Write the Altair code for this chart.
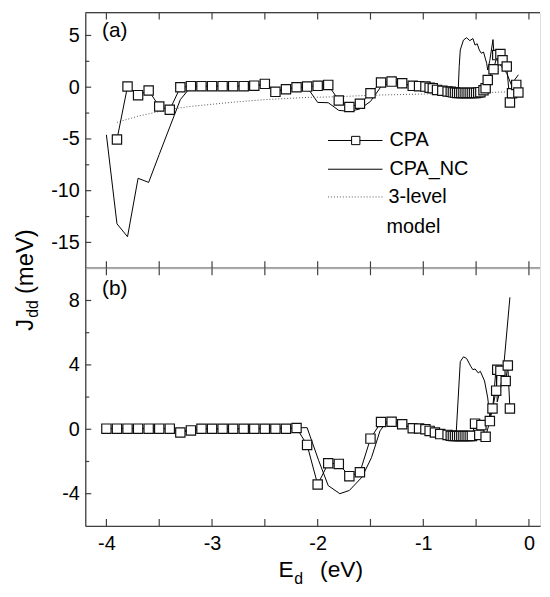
import altair as alt
import pandas as pd

# ---------------- data ----------------
# panel (a)
cpa_a_x = [-3.9, -3.8, -3.7, -3.6, -3.5, -3.4, -3.3, -3.2, -3.1, -3.0, -2.9, -2.8, -2.7, -2.6,
           -2.5, -2.4, -2.3, -2.2, -2.1, -2.0, -1.9, -1.8, -1.7, -1.6, -1.5, -1.4, -1.3, -1.2,
           -1.1, -1.04, -0.98, -0.94, -0.91, -0.87, -0.82, -0.77,
           -0.74, -0.72, -0.70, -0.68, -0.66, -0.64, -0.62, -0.60, -0.58, -0.56, -0.54, -0.52,
           -0.50, -0.48, -0.46,
           -0.43, -0.41, -0.39, -0.335, -0.30, -0.27, -0.25, -0.21, -0.18, -0.16, -0.12, -0.10]
cpa_a_y = [-5.06, 0.07, -0.77, -0.32, -1.86, -2.18, 0.0, 0.1, 0.1, 0.1, 0.1, 0.1, 0.1, 0.15,
           0.32, -0.45, -0.2, 0.0, 0.06, 0.13, 0.22, -1.28, -1.92, -1.6, -0.58, 0.45, 0.54, 0.38,
           0.13, 0.1, 0.06, -0.05, -0.1, -0.26, -0.35, -0.42,
           -0.45, -0.5, -0.52, -0.55, -0.55, -0.55, -0.55, -0.55, -0.55, -0.55, -0.55, -0.55,
           -0.55, -0.52, -0.48,
           -0.3, -0.1, 0.7, 1.73, 3.1, 3.2, 2.6, 2.0, -1.47, -0.58, 0.22, -0.51]

nc_a_x = [-4.0, -3.9, -3.8, -3.7, -3.6, -3.5, -3.4, -3.3, -3.2, -3.1, -3.0, -2.9, -2.8, -2.7,
          -2.6, -2.5, -2.4, -2.3, -2.2, -2.1, -2.0, -1.9, -1.8, -1.7, -1.6, -1.5, -1.4, -1.3,
          -1.2, -1.1, -1.0, -0.9, -0.8, -0.7, -0.67, -0.66, -0.65, -0.62, -0.59, -0.56, -0.53,
          -0.51, -0.49, -0.47, -0.45, -0.43, -0.40, -0.39, -0.37, -0.34, -0.33, -0.30, -0.26,
          -0.21, -0.16, -0.15, -0.10]
nc_a_y = [-4.6, -13.2, -14.45, -8.8, -9.2, -6.5, -3.85, -1.2, 0.05, 0.1, 0.1, 0.1, 0.1, 0.1,
          0.1, 0.3, -0.3, -0.2, 0.0, 0.0, -1.47, -1.5, -2.24, -2.34, -2.1, -1.38, 0.06, 0.45,
          0.38, 0.1, 0.0, -0.15, -0.35, -0.45, -0.45, 2.0, 3.6, 4.55, 4.78, 4.5, 4.7,
          4.07, 4.2, 3.6, 3.27, 3.4, 2.3, 1.66, 2.6, 4.6, 3.0, 2.6, 2.0,
          1.35, 0.06, 0.5, 1.2]

lvl_x = [-3.9, -3.7, -3.5, -3.4, -3.2, -3.0, -2.8, -2.5, -2.1, -1.8, -1.5, -1.0, -0.5, -0.1]
lvl_y = [-3.4, -2.8, -2.35, -2.15, -1.85, -1.65, -1.45, -1.2, -0.99, -0.92, -0.78, -0.66, -0.55, -0.42]

# panel (b)
cpa_b_x = [-4.0, -3.9, -3.8, -3.7, -3.6, -3.5, -3.4, -3.3, -3.2, -3.1, -3.0, -2.9, -2.8, -2.7,
           -2.6, -2.5, -2.4, -2.3, -2.2,
           -2.1, -2.0, -1.9, -1.8, -1.7, -1.6, -1.5, -1.4, -1.3, -1.2, -1.1,
           -1.04, -0.98, -0.94, -0.89, -0.84, -0.77,
           -0.74, -0.72, -0.70, -0.68, -0.66, -0.64, -0.62, -0.60, -0.58, -0.56, -0.54,
           -0.51, -0.47, -0.45, -0.41, -0.37, -0.345, -0.31, -0.30, -0.27, -0.22, -0.20, -0.18]
cpa_b_y = [0.04, 0.04, 0.04, 0.04, 0.04, 0.04, 0.04, -0.2, -0.07, 0.03, 0.03, 0.03, 0.03, 0.03,
           0.03, 0.03, 0.03, 0.03, 0.08,
           -0.97, -3.43, -2.11, -2.15, -2.91, -2.67, -0.58, 0.45, 0.47, 0.31, 0.06,
           0.05, 0.0, -0.1, -0.2, -0.3, -0.35,
           -0.4, -0.41, -0.42, -0.42, -0.42, -0.42, -0.42, -0.42, -0.42, -0.42, -0.41,
           0.35, -0.35, 0.26, -0.47, 0.51, 1.29, 2.4, 3.7, 3.63, 3.0, 3.96, 1.29]

nc_b_x = [-4.0, -3.4, -3.3, -3.2, -2.2, -2.1, -1.99, -1.9, -1.79, -1.70, -1.58, -1.49, -1.41,
          -1.36, -1.30, -1.2, -1.1, -1.0, -0.9, -0.8, -0.71, -0.69, -0.65, -0.62, -0.59, -0.55,
          -0.53, -0.51, -0.48, -0.46, -0.42, -0.39, -0.37, -0.34, -0.31, -0.30, -0.27, -0.24, -0.18]
nc_b_y = [0.05, 0.05, -0.15, 0.0, 0.1, 0.1, -1.95, -3.5, -4.0, -3.8, -2.97, -1.75, -0.1,
          0.35, 0.47, 0.3, 0.06, 0.0, -0.15, -0.3, -0.4, -0.4, 4.2, 4.5, 4.4, 3.9,
          3.7, 3.75, 3.5, 3.6, 3.0, 1.95, 0.8, 1.5, 3.9, 1.7, 2.5, 3.8, 8.2]

# axis ticks / labels
x_major = [-4, -3, -2, -1, 0]
x_minor = [-3.5, -2.5, -1.5, -0.5]
ya_major = [-15, -10, -5, 0, 5]
ya_minor = [-12.5, -7.5, -2.5, 2.5]
yb_major = [-4, 0, 4, 8]
yb_minor = [-2, 2, 6]
legend_labels = ["CPA", "CPA_NC", "3-level", "model"]

# ---------------- styling ----------------
FONT = "Liberation Sans"
FRAME = "#404040"
LABEL_SIZE = 20
W = 459
HA = 258
HB = 260
xscale = alt.Scale(domain=[-4.2, 0.105], nice=False, zero=False)
ya_scale = alt.Scale(domain=[-17.5, 7.2], nice=False, zero=False)
yb_scale = alt.Scale(domain=[-6, 10], nice=False, zero=False)


def df(x, y):
    return pd.DataFrame({"x": x, "y": y})


def make_axes(yscale, ymaj, x_labels):
    yax = alt.Axis(values=ymaj, ticks=False, domain=True, domainColor=FRAME, domainWidth=1.3,
                   grid=False, labelFont=FONT, labelFontSize=LABEL_SIZE, labelColor="black",
                   labelPadding=6, labelExpr="'' + datum.value", title=None)
    if x_labels:
        xax = alt.Axis(values=x_major, ticks=False, domain=True, domainColor=FRAME,
                       domainWidth=1.3, grid=False, labelFont=FONT, labelFontSize=LABEL_SIZE,
                       labelColor="black", labelPadding=8,
                       labelExpr="'' + datum.value", title=None)
    else:
        xax = alt.Axis(values=x_major, ticks=False, domain=False, labels=False,
                       grid=False, title=None)
    X = alt.X("x:Q", scale=xscale, axis=xax)
    Y = alt.Y("y:Q", scale=yscale, axis=yax)
    return X, Y


def line_layer(x, y, X, Y, **kw):
    return (alt.Chart(df(x, y)).mark_line(**kw)
            .encode(x=X, y=Y, order="idx:Q")
            .transform_window(idx="row_number()"))


def cpa_layers(cpa_x, cpa_y, X, Y):
    line = line_layer(cpa_x, cpa_y, X, Y, color="black", strokeWidth=1)
    pts = (alt.Chart(df(cpa_x, cpa_y)).mark_point(shape="square", size=88, filled=True,
                                                   fill="white", stroke="#111111",
                                                   strokeWidth=1.2, opacity=1)
           .encode(x=X, y=Y))
    return [line, pts]


def tick_layers(X, Y, ymaj, ymin, h):
    out = []
    xt = pd.DataFrame({"x": x_major + x_minor})
    out.append(alt.Chart(xt).mark_rule(color=FRAME, strokeWidth=1.2)
               .encode(x=X, y=alt.value(0), y2=alt.value(7)))
    out.append(alt.Chart(xt).mark_rule(color=FRAME, strokeWidth=1.2)
               .encode(x=X, y=alt.value(h - 7), y2=alt.value(h)))
    out.append(alt.Chart(pd.DataFrame({"y": ymaj})).mark_rule(color=FRAME, strokeWidth=1.2)
               .encode(y=Y, x=alt.value(0), x2=alt.value(6)))
    out.append(alt.Chart(pd.DataFrame({"y": ymin})).mark_rule(color=FRAME, strokeWidth=1.2)
               .encode(y=Y, x=alt.value(0), x2=alt.value(4)))
    return out


def txt(text, x, y, size, angle=0, baseline="alphabetic"):
    kw = dict(font=FONT, fontSize=size, align="left", baseline=baseline, color="black")
    if angle:
        kw["angle"] = angle
    return alt.Chart().mark_text(**kw).encode(x=alt.value(x), y=alt.value(y),
                                               text=alt.value(text))


# ---------------- panel (a) ----------------
Xa, Ya = make_axes(ya_scale, ya_major, False)
la = [line_layer(nc_a_x, nc_a_y, Xa, Ya, color="black", strokeWidth=1),
      alt.Chart(df(lvl_x, lvl_y)).mark_line(color="#555555", strokeWidth=1, strokeDash=[1, 2])
      .encode(x=Xa, y=Ya)]
la += cpa_layers(cpa_a_x, cpa_a_y, Xa, Ya)
la += tick_layers(Xa, Ya, ya_major, ya_minor, HA)
# frame: top edge and panel boundary
la.append(alt.Chart().mark_rule(color=FRAME, strokeWidth=1.3)
          .encode(x=alt.value(0), x2=alt.value(W), y=alt.value(0)))
la.append(alt.Chart().mark_rule(color=FRAME, strokeWidth=1.5)
          .encode(x=alt.value(0), x2=alt.value(W), y=alt.value(HA)))
la.append(txt("(a)", 17, 25, 21))
# legend
la.append(alt.Chart().mark_rule(color="black", strokeWidth=1)
          .encode(x=alt.value(245), x2=alt.value(300), y=alt.value(129)))
la.append(alt.Chart().mark_point(shape="square", size=70, filled=True, fill="white",
                                  stroke="black", strokeWidth=1, opacity=1)
          .encode(x=alt.value(273), y=alt.value(129)))
la.append(alt.Chart().mark_rule(color="black", strokeWidth=1)
          .encode(x=alt.value(245), x2=alt.value(300), y=alt.value(158)))
la.append(alt.Chart().mark_rule(color="#555555", strokeWidth=1, strokeDash=[1, 2])
          .encode(x=alt.value(245), x2=alt.value(300), y=alt.value(186)))
la.append(txt(legend_labels[0], 307, 135, 20))
la.append(txt(legend_labels[1], 307, 164, 20))
la.append(txt(legend_labels[2], 306, 192, 20))
la.append(txt(legend_labels[3], 304, 222, 20))

chart_a = alt.layer(*la).properties(width=W, height=HA)

# ---------------- panel (b) ----------------
Xb, Yb = make_axes(yb_scale, yb_major, True)
lb = [line_layer(nc_b_x, nc_b_y, Xb, Yb, color="black", strokeWidth=1)]
lb += cpa_layers(cpa_b_x, cpa_b_y, Xb, Yb)
lb += tick_layers(Xb, Yb, yb_major, yb_minor, HB)
lb.append(txt("(b)", 17, 27, 21))
# y title (spans both panels), J_dd (meV)
lb.append(txt("J", -53, 63, 24, angle=270))
lb.append(txt("dd", -48, 50, 16, angle=270))
lb.append(txt("(meV)", -53, 26, 24, angle=270))
# x title, E_d (eV)
lb.append(txt("E", 195, 312, 23))
lb.append(txt("d", 211, 319, 16))
lb.append(txt("(eV)", 237, 312, 23))

chart_b = alt.layer(*lb).properties(width=W, height=HB)

chart = (alt.vconcat(chart_a, chart_b, spacing=0, bounds="flush")
         .properties(padding={"left": 5, "right": 0, "top": 0, "bottom": 0})
         .configure_view(stroke=None)
         .configure(background="white"))

chart.save("out.html", embed_options={"renderer": "svg", "actions": False})
